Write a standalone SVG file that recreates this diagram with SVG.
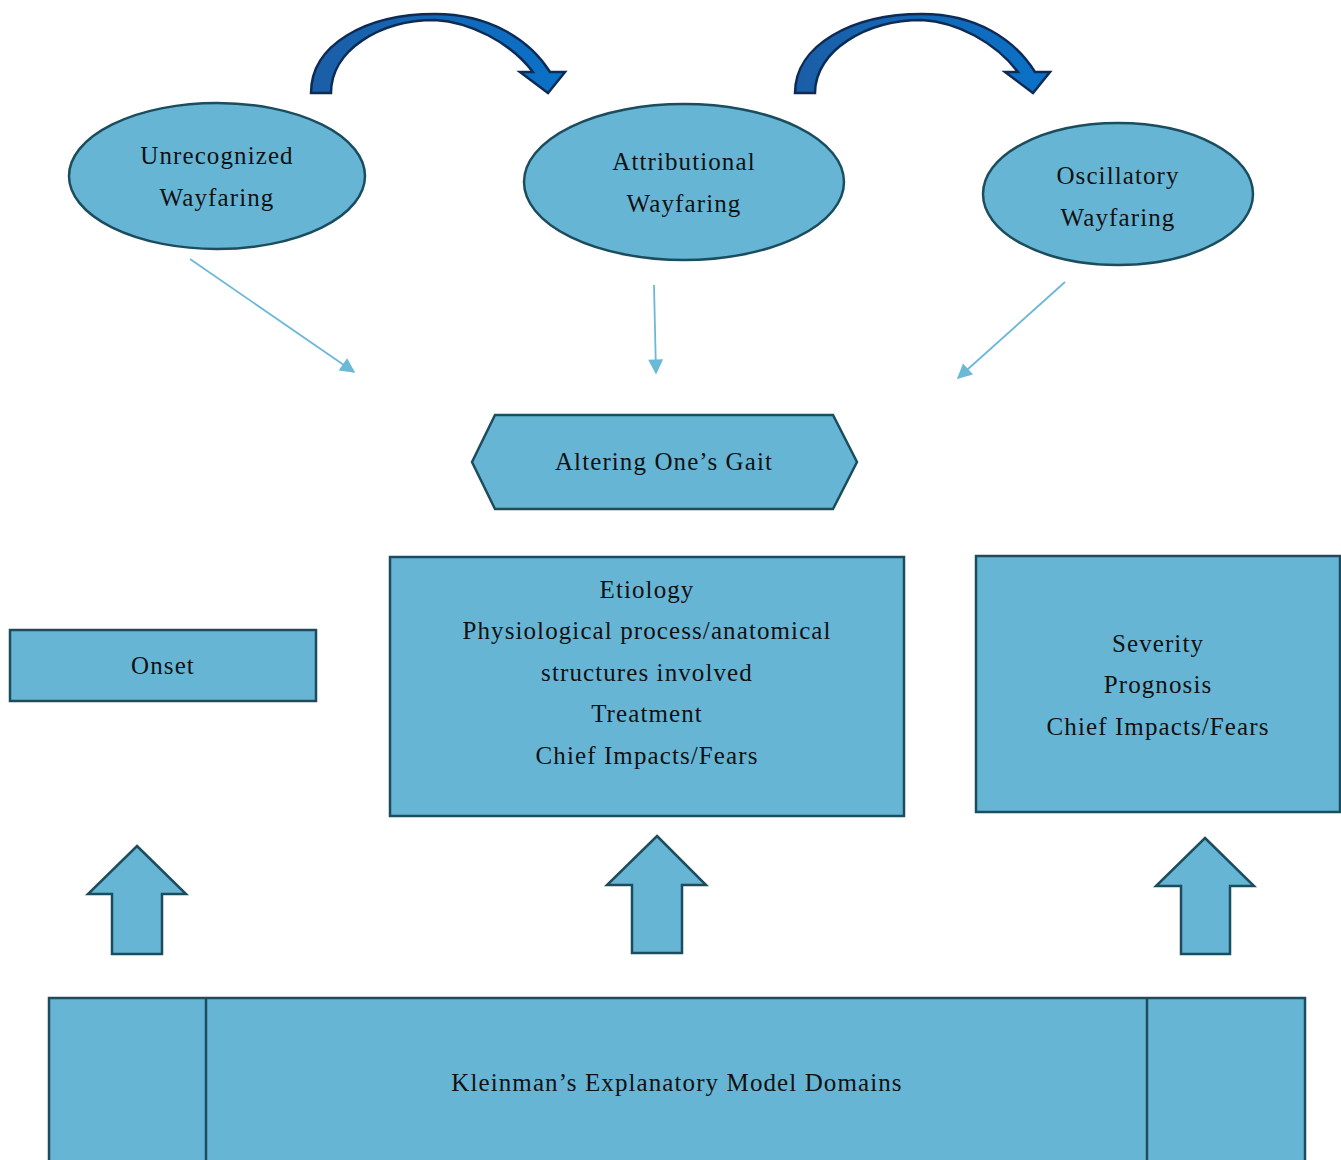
<svg xmlns="http://www.w3.org/2000/svg" width="1341" height="1160" viewBox="0 0 1341 1160">
<style>
.n{fill:#67b5d5;stroke:#1b4d5e;stroke-width:2.5}
.t{font-family:"Liberation Serif","Times New Roman",serif;font-size:25px;letter-spacing:1.1px;fill:#111;text-anchor:middle}
.c{stroke:#6bb8d8;stroke-width:1.8;fill:none;marker-end:url(#ah)}
.ca{stroke:#0d2b55;stroke-width:2.5;fill:url(#g)}
</style>
<defs>
<marker id="ah" viewBox="0 0 10 10" refX="9" refY="5" markerWidth="18" markerHeight="15" orient="auto" markerUnits="userSpaceOnUse"><path d="M0,0 L10,5 L0,10 z" fill="#6bb8d8"/></marker>
<linearGradient id="g" x1="0" y1="0" x2="1" y2="0"><stop offset="0" stop-color="#1b5ea6"/><stop offset="1" stop-color="#0a72c8"/></linearGradient>
</defs>
<g id="curved-arrows">
<path class="ca" d="M311,93 C311,45 365,14 435,14 C490,14 530,40 550,72 L565,72 L548,93 L520,72 L533,72 C510,42 470,22 435,20 C380,20 331,50 331,93 Z"/>
<path class="ca" d="M795,93 C795,45 852,14 922,14 C977,14 1015,40 1035,72 L1050,72 L1033,93 L1005,72 L1018,72 C995,42 957,22 922,20 C867,20 815,50 815,93 Z"/>
</g>
<g id="connectors">
<line class="c" x1="190" y1="259" x2="354" y2="372"/>
<line class="c" x1="654" y1="285" x2="656" y2="373"/>
<line class="c" x1="1065" y1="282" x2="958" y2="378"/>
</g>
<g id="unrecognized">
<ellipse class="n" cx="217" cy="176" rx="148" ry="73"/>
<text class="t" x="217" y="164">Unrecognized</text>
<text class="t" x="217" y="206">Wayfaring</text>
</g>
<g id="attributional">
<ellipse class="n" cx="684" cy="182" rx="160" ry="78"/>
<text class="t" x="684" y="170">Attributional</text>
<text class="t" x="684" y="212">Wayfaring</text>
</g>
<g id="oscillatory">
<ellipse class="n" cx="1118" cy="194" rx="135" ry="71"/>
<text class="t" x="1118" y="184">Oscillatory</text>
<text class="t" x="1118" y="226">Wayfaring</text>
</g>
<g id="gait">
<polygon class="n" points="472,462 495,415 833,415 857,462 833,509 495,509"/>
<text class="t" x="664" y="470">Altering One’s Gait</text>
</g>
<g id="onset">
<rect class="n" x="10" y="630" width="306" height="71"/>
<text class="t" x="163" y="674">Onset</text>
</g>
<g id="etiology">
<rect class="n" x="390" y="557" width="514" height="259"/>
<text class="t" x="647" y="598">Etiology</text>
<text class="t" x="647" y="639">Physiological process/anatomical</text>
<text class="t" x="647" y="681">structures involved</text>
<text class="t" x="647" y="722">Treatment</text>
<text class="t" x="647" y="764">Chief Impacts/Fears</text>
</g>
<g id="severity">
<rect class="n" x="976" y="556" width="364" height="256"/>
<text class="t" x="1158" y="652">Severity</text>
<text class="t" x="1158" y="693">Prognosis</text>
<text class="t" x="1158" y="735">Chief Impacts/Fears</text>
</g>
<g id="up1"><polygon class="n" points="137,846 186,894 162,894 162,954 112,954 112,894 88,894"/></g>
<g id="up2"><polygon class="n" points="657,836 706,885 682,885 682,953 632,953 632,885 607,885"/></g>
<g id="up3"><polygon class="n" points="1205,838 1254,886 1230,886 1230,954 1181,954 1181,886 1156,886"/></g>
<g id="kleinman">
<rect class="n" x="49" y="998" width="1256" height="180"/>
<line class="n" x1="206" y1="998" x2="206" y2="1160"/>
<line class="n" x1="1147" y1="998" x2="1147" y2="1160"/>
<text class="t" x="677" y="1091">Kleinman’s Explanatory Model Domains</text>
</g>
</svg>
